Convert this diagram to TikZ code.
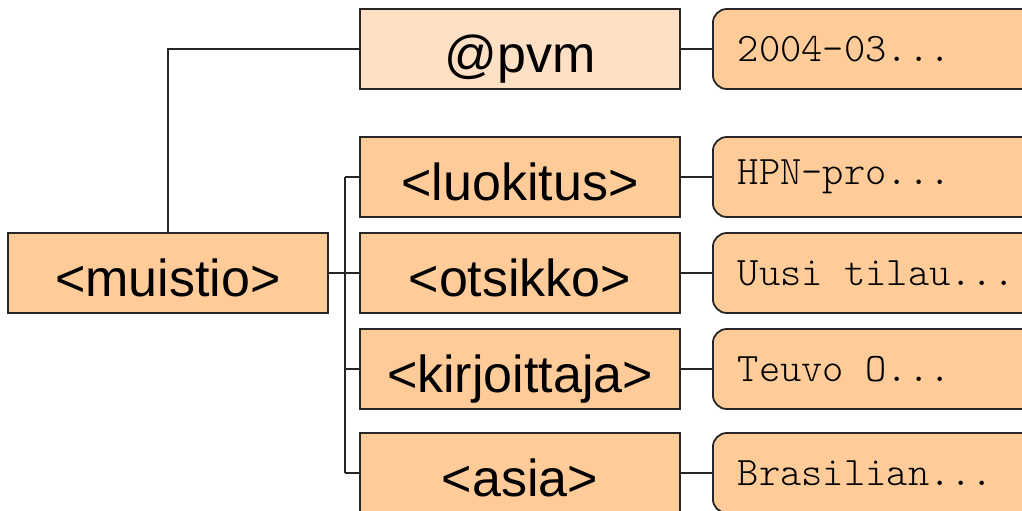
\documentclass[tikz,border=0pt]{standalone}
\usepackage{fontspec}
\setmainfont{Liberation Sans}
\newfontfamily\valfont{lmmonolt10-regular.otf}
\definecolor{tagfill}{HTML}{FFCC99}
\definecolor{attrfill}{HTML}{FFE0C4}
\newcommand\trunc{...}
\newcommand\msp{\phantom{x}}
\tikzset{
  tag/.style={draw=black!85,line width=1.8pt,fill=tagfill,minimum width=320pt,
    minimum height=80pt,inner sep=0pt,text height=46pt,text depth=0pt,
    font=\fontsize{52}{52}\selectfont},
  attr/.style={tag,fill=attrfill},
  val/.style={draw=black!85,line width=1.8pt,fill=tagfill,rounded corners=14pt,
    anchor=west,minimum height=80pt,text width=330pt,inner xsep=25pt,inner ysep=0pt,
    align=left,font=\fontsize{40.5}{40.5}\selectfont\valfont},
  link/.style={draw=black!85,line width=1.8pt}
}
\begin{document}
\begin{tikzpicture}[x=1pt,y=-1pt]
  \useasboundingbox (0,0) rectangle (1022,511);
  \clip (0,0) rectangle (1022,511);
  \node[tag] (muistio) at (168,273) {<muistio>};
  \path (muistio.east) ++(16,0) coordinate (bus);
  % attribuutti
  \node[attr] (pvm) at (520,49) {@pvm};
  \node[val] (vpvm) at (712,49) {2004-03\trunc};
  \draw[link] (muistio.north) |- (pvm.west);
  \draw[link] (pvm.east) -- (vpvm.west);
  % alielementit
  \draw[link] (muistio.east) -- (bus);
  \draw[link] (bus |- 0,177) -- (bus |- 0,473);
  \foreach \n/\v/\y in {luokitus/{HPN-pro\trunc}/177,otsikko/{Uusi\msp tilau\trunc}/273,
      kirjoittaja/{Teuvo\msp O\trunc}/369,asia/{Brasilian\trunc}/473}
  {
    \node[tag] (\n) at (520,\y) {<\n>};
    \node[val] (v\n) at (712,\y) {\v};
    \draw[link] (bus |- \n.west) -- (\n.west);
    \draw[link] (\n.east) -- (v\n.west);
  }
\end{tikzpicture}
\end{document}
